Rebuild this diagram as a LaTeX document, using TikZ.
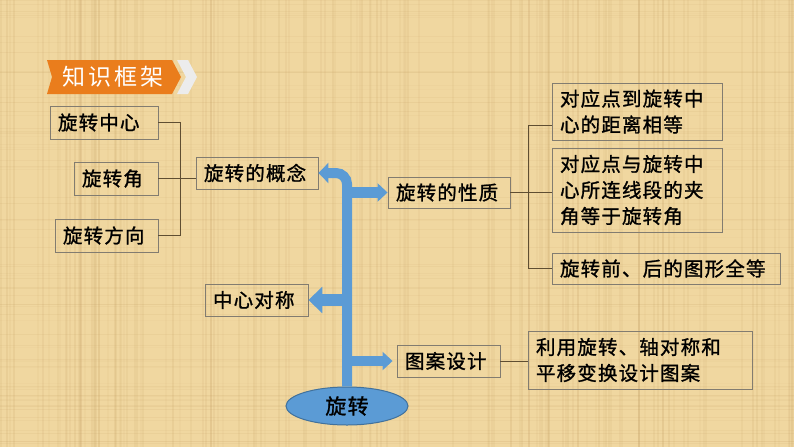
\documentclass[tikz,border=0pt]{standalone}
\usepackage{fontspec}
\newfontfamily\cjk[LetterSpace=6,FakeBold=1.2]{Noto Sans CJK SC}
\newfontfamily\cjktitle[LetterSpace=14]{Noto Sans CJK SC}
\usetikzlibrary{arrows.meta,shapes.geometric}
\definecolor{bg}{RGB}{240,215,160}
\definecolor{texture}{RGB}{190,150,90}
\definecolor{boxline}{RGB}{130,124,112}
\definecolor{linkc}{RGB}{95,78,50}
\definecolor{bblue}{RGB}{91,155,213}
\definecolor{bedge}{RGB}{65,113,156}
\definecolor{banner}{RGB}{234,125,28}
\definecolor{chev}{RGB}{236,236,236}
\tikzset{
  box/.style={draw=boxline, line width=0.9pt, inner xsep=8pt, inner ysep=0pt,
    align=left, text=black, font={\cjk\fontsize{19.5}{26}\selectfont}},
  linkline/.style={draw=linkc, line width=1pt},
  bluearrow/.style={draw=bblue, line cap=butt}
}
\begin{document}
\begin{tikzpicture}[x=1pt,y=-1pt]
\useasboundingbox (0,0) rectangle (794,447);
\fill[bg] (0,0) rectangle (794,447);
% texture
\pgfmathsetseed{1234}
\foreach \i in {1,...,140}{
  \pgfmathsetmacro\xx{random(0,794)}
  \pgfmathsetmacro\op{0.04+0.10*rnd}
  \draw[texture, opacity=\op, line width=1.2pt] (\xx,0) -- (\xx,447);
}
\foreach \i in {1,...,80}{
  \pgfmathsetmacro\yy{random(0,447)}
  \pgfmathsetmacro\op{0.03+0.08*rnd}
  \draw[texture, opacity=\op, line width=1pt] (0,\yy) -- (794,\yy);
}
% title banner
\fill[banner] (47,60) -- (172,60) -- (181,77) -- (172,94) -- (47,94) -- (52,77) -- cycle;
\fill[chev] (177,60) -- (188,60) -- (197,77) -- (188,94) -- (177,94) -- (186,77) -- cycle;
\node[anchor=west, text=white, inner sep=0pt, font={\cjktitle\fontsize{23}{26}\selectfont}] (title) at (62,77) {知识框架};

% boxes
\node[box, text width=92pt, minimum height=33pt] (c1) at (104,122.5) {旋转中心};
\node[box, text width=68pt, minimum height=33pt] (c2) at (116,178.5) {旋转角};
\node[box, text width=87pt, minimum height=33pt] (c3) at (106.5,235.5) {旋转方向};
\node[box, text width=106pt, minimum height=32pt] (concept) at (257,173) {旋转的概念};
\node[box, text width=106pt, minimum height=31pt] (prop) at (449,192.5) {旋转的性质};
\node[box, text width=154pt, minimum height=57pt] (p1) at (637,111.5) {对应点到旋转中\\心的距离相等};
\node[box, text width=154pt, minimum height=84pt] (p2) at (637,190) {对应点与旋转中\\心所连线段的夹\\角等于旋转角};
\node[box, text width=212pt, minimum height=31pt] (p3) at (666,268.5) {旋转前、后的图形全等};
\node[box, text width=87pt, minimum height=32pt] (sym) at (256.5,300) {中心对称};
\node[box, text width=87pt, minimum height=32pt] (design) at (448.5,361) {图案设计};
\node[box, text width=208pt, minimum height=58pt] (d1) at (640,360) {利用旋转、轴对称和\\平移变换设计图案};
\node[ellipse, fill=bblue, draw=bedge, line width=1pt, minimum width=122pt, minimum height=38pt,
  inner sep=0pt, text=black, font={\cjk\fontsize{21}{24}\selectfont}] (root) at (347,406) {旋转};

% thin connectors
\draw[linkline] (c1.east) -- ++(22,0) |- (c3.east);
\draw[linkline] (c2.east) -- (c2.east -| concept.west);
\coordinate (rb) at (528,125);
\draw[linkline] (p1.west |- rb) -- (rb) |- (p3.west);
\draw[linkline] (prop.east) -- (prop.east -| p2.west);
\draw[linkline] (design.east) -- (design.east -| d1.west);

% blue arrows
\draw[bluearrow, line width=10pt, rounded corners=11pt, -{Triangle[width=20pt,length=10pt]}]
  (root.north) |- (concept.east);
\draw[bluearrow, line width=11pt, -{Triangle[width=18pt,length=10pt]}]
  (prop.west -| root.north) -- (prop.west);
\draw[bluearrow, line width=12pt, -{Triangle[width=26pt,length=14pt]}]
  (sym.east -| root.north) -- (sym.east);
\draw[bluearrow, line width=10pt, shorten >=4pt, -{Triangle[width=18pt,length=10pt]}]
  (design.west -| root.north) -- (design.west);
\end{tikzpicture}
\end{document}
